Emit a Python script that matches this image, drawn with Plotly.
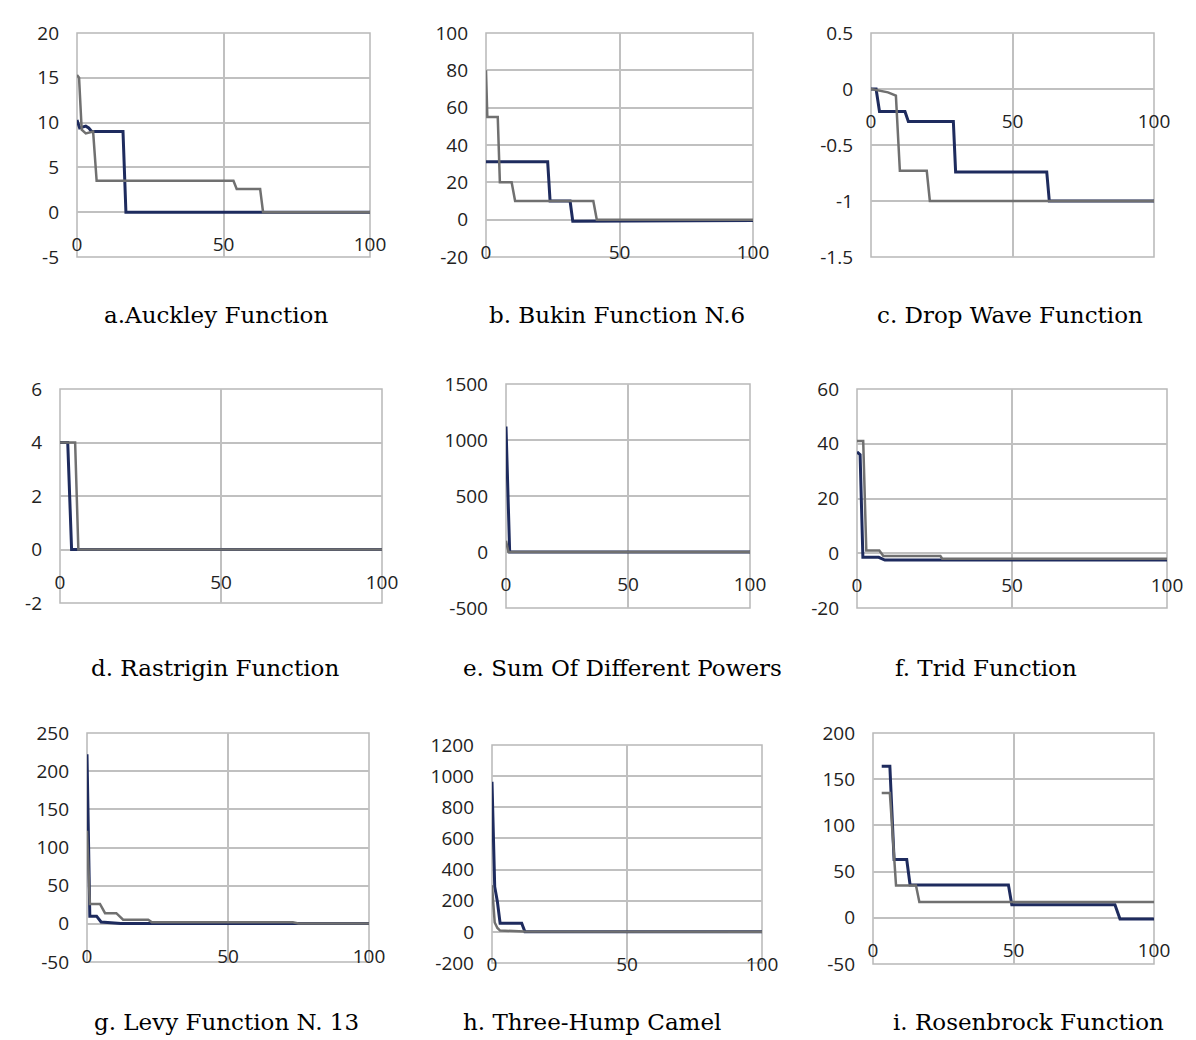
import plotly.graph_objects as go

# ---------------- data ----------------
# a. Auckley
a_navy_x = [0, 0.9, 3, 4, 5, 15.7, 16.7, 100]
a_navy_y = [10.3, 9.4, 9.6, 9.4, 9.0, 9.0, 0, 0]
a_gray_x = [0, 0.7, 1.6, 3, 5.5, 6.7, 53.4, 54.5, 62.5, 63.5, 100]
a_gray_y = [15.3, 15.0, 9.2, 8.8, 9.0, 3.5, 3.5, 2.6, 2.6, 0, 0]
# b. Bukin N.6
b_navy_x = [0, 23.1, 24, 31.5, 32.5, 100]
b_navy_y = [31, 31, 10, 10, -0.8, -0.5]
b_gray_x = [0, 0.5, 4.4, 5.2, 9.6, 10.9, 40.2, 41.5, 100]
b_gray_y = [80, 55, 55, 20, 20, 10, 10, 0, 0]
# c. Drop Wave
c_navy_x = [0, 1.8, 3, 12, 13.2, 29.1, 29.9, 62.1, 63, 100]
c_navy_y = [0, 0, -0.2, -0.2, -0.29, -0.29, -0.74, -0.74, -1, -1]
c_gray_x = [0, 6, 8.8, 10.2, 19.7, 20.8, 100]
c_gray_y = [0, -0.03, -0.06, -0.73, -0.73, -1, -1]
# d. Rastrigin
d_navy_x = [0, 2.4, 3.6, 100]
d_navy_y = [4, 4, 0, 0]
d_gray_x = [0, 4.7, 5.7, 100]
d_gray_y = [4, 4, 0, 0]
# e. Sum of different powers
e_navy_x = [0, 1.5, 100]
e_navy_y = [1120, 0, 0]
e_gray_x = [0, 1, 100]
e_gray_y = [100, 0, 0]
# f. Trid
f_navy_x = [0, 1, 1.9, 7, 9, 100]
f_navy_y = [37, 36, -1.5, -1.5, -2.5, -2.5]
f_gray_x = [0, 2, 3, 7.2, 8.5, 26.9, 27.5, 100]
f_gray_y = [41, 41, 1, 1, -1, -1, -2, -2]
# g. Levy N.13
g_navy_x = [0, 1, 3.4, 5, 12, 100]
g_navy_y = [222, 10, 10, 2.4, 0.5, 0.5]
g_gray_x = [0, 1, 4.6, 6.4, 10.4, 12.8, 21.7, 23, 73, 75, 100]
g_gray_y = [122, 26, 26, 14, 14, 5.5, 5.5, 2, 2, 0.5, 0.5]
# h. Three-Hump Camel
h_navy_x = [0, 1, 2, 3, 11, 12.2, 100]
h_navy_y = [964, 290, 193, 55, 55, 0, 0]
h_gray_x = [0, 1, 2, 3, 12, 100]
h_gray_y = [300, 60, 25, 8, 3, 0]
# i. Rosenbrock
i_navy_x = [3.1, 6, 7.5, 12, 13.2, 48.2, 49.4, 86.1, 87.9, 100]
i_navy_y = [164, 164, 63, 63, 35.5, 35.5, 14, 14, -1.4, -1.4]
i_gray_x = [3.1, 6, 8.2, 15.3, 16.5, 100]
i_gray_y = [135, 135, 35, 35, 17, 17]

captions = ["a.Auckley Function", "b. Bukin Function N.6", "c. Drop Wave Function",
            "d. Rastrigin Function", "e. Sum Of Different Powers", "f. Trid Function",
            "g. Levy Function N. 13", "h. Three-Hump Camel", "i. Rosenbrock Function"]

# y tick values per panel (first and last are the axis range)
a_yticks = [-5, 0, 5, 10, 15, 20]
b_yticks = [-20, 0, 20, 40, 60, 80, 100]
c_yticks = [-1.5, -1, -0.5, 0, 0.5]
d_yticks = [-2, 0, 2, 4, 6]
e_yticks = [-500, 0, 500, 1000, 1500]
f_yticks = [-20, 0, 20, 40, 60]
g_yticks = [-50, 0, 50, 100, 150, 200, 250]
h_yticks = [-200, 0, 200, 400, 600, 800, 1000, 1200]
i_yticks = [-50, 0, 50, 100, 150, 200]
y_ticks = [a_yticks, b_yticks, c_yticks, d_yticks, e_yticks, f_yticks,
           g_yticks, h_yticks, i_yticks]
x_ticks = [0, 50, 100]

series = [
    (a_navy_x, a_navy_y, a_gray_x, a_gray_y),
    (b_navy_x, b_navy_y, b_gray_x, b_gray_y),
    (c_navy_x, c_navy_y, c_gray_x, c_gray_y),
    (d_navy_x, d_navy_y, d_gray_x, d_gray_y),
    (e_navy_x, e_navy_y, e_gray_x, e_gray_y),
    (f_navy_x, f_navy_y, f_gray_x, f_gray_y),
    (g_navy_x, g_navy_y, g_gray_x, g_gray_y),
    (h_navy_x, h_navy_y, h_gray_x, h_gray_y),
    (i_navy_x, i_navy_y, i_gray_x, i_gray_y),
]


def fmt(v):
    return "%g" % v  # plain hyphen-minus, as in the reference


# ---------------- layout geometry (window pixels) ----------------
OFF = 8                      # default page margin of the html body
W, H = 1196 - OFF, 1040 - OFF  # figure size so that it fits the window
boxes = [  # left, right, top, bottom (window pixels)
    (77, 370, 33, 257), (486, 753, 33, 257), (871, 1154, 33, 257),
    (60, 382, 389, 603), (506, 750, 384, 608), (857, 1167, 389, 608),
    (87, 369, 733, 962), (492, 762, 745, 963), (873, 1154, 733, 964),
]
cap_pos = [(216, 315), (617, 315), (1010, 315),
           (215, 668), (622, 668), (986, 668),
           (226, 1022), (592, 1022), (1028, 1022)]


def px(x):
    return (x - OFF) / W


def py(y):
    return 1 - (y - OFF) / H


NAVY = "#1e2b5e"
GRAY = "#707070"
GRID = "#c0c0c0"
TICKFONT = dict(family="Open Sans", size=19, color="#222222")

fig = go.Figure()
layout = dict(
    width=W, height=H, margin=dict(l=0, r=0, t=0, b=0, autoexpand=False),
    paper_bgcolor="white", plot_bgcolor="white", showlegend=False,
    annotations=[], shapes=[],
)

for k in range(9):
    n = "" if k == 0 else str(k + 1)
    xa, ya = "x" + n, "y" + n
    nx, ny, gx, gy = series[k]
    fig.add_trace(go.Scatter(x=nx, y=ny, mode="lines", xaxis=xa, yaxis=ya,
                             line=dict(color=NAVY, width=3)))
    fig.add_trace(go.Scatter(x=gx, y=gy, mode="lines", xaxis=xa, yaxis=ya,
                             line=dict(color=GRAY, width=2.5)))
    l, r, t, b = boxes[k]
    xd = [px(l), px(r)]
    yd = [py(b), py(t)]
    yt = y_ticks[k]
    y0, y1 = yt[0], yt[-1]
    zero_pos = yd[0] + (0 - y0) / (y1 - y0) * (yd[1] - yd[0])
    layout["xaxis" + n] = dict(
        domain=xd, range=[0, 100], anchor="free", position=zero_pos,
        tickvals=x_ticks, ticktext=[fmt(v) for v in x_ticks],
        showgrid=True, gridcolor=GRID, gridwidth=1.5,
        zeroline=False, showline=False, ticks="", tickfont=TICKFONT,
        ticklabelstandoff=19, automargin=False,
    )
    layout["yaxis" + n] = dict(
        domain=yd, range=[y0, y1], anchor=xa,
        tickvals=yt, ticktext=[fmt(v) for v in yt],
        showgrid=True, gridcolor=GRID, gridwidth=1.5, zeroline=False,
        showline=False, ticks="", tickfont=TICKFONT, ticklabelstandoff=17,
        automargin=False,
    )
    layout["shapes"].append(dict(
        type="rect", xref=xa + " domain", yref=ya + " domain",
        x0=0, x1=1, y0=0, y1=1, line=dict(color="#b8b8b8", width=1.5),
        layer="below",
    ))
    cx, cy = cap_pos[k]
    layout["annotations"].append(dict(
        text=captions[k], xref="paper", yref="paper", x=px(cx), y=py(cy),
        xanchor="center", yanchor="middle", showarrow=False,
        font=dict(family="DejaVu Serif", size=23, color="#000000"),
    ))

fig.update_layout(**layout)
fig.write_html("out.html")
